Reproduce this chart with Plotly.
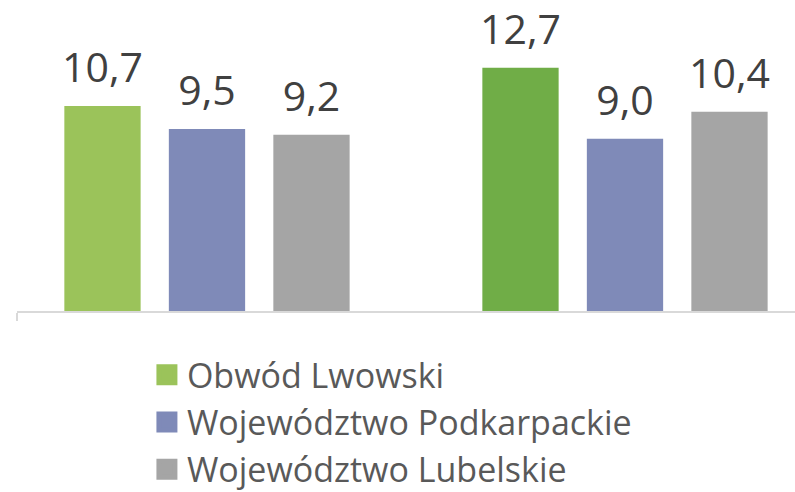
import plotly.graph_objects as go

categories = [0, 1]
series_names = ["Obwód Lwowski", "Województwo Podkarpackie", "Województwo Lubelskie"]
lwowski = [10.7, 12.7]
podkarpackie = [9.5, 9.0]
lubelskie = [9.2, 10.4]

colors_lwowski = ["#9BC35A", "#70AD47"]
color_podk = "#7F8AB8"
color_lub = "#A5A5A5"

FONT = "Open Sans"
series = [
    (series_names[0], lwowski, colors_lwowski, colors_lwowski[0]),
    (series_names[1], podkarpackie, color_podk, color_podk),
    (series_names[2], lubelskie, color_lub, color_lub),
]

fig = go.Figure()
# bars
for name, vals, col, _ in series:
    fig.add_trace(go.Bar(
        x=categories, y=vals, name=name, showlegend=False,
        marker=dict(color=col, line=dict(width=0)),
        cliponaxis=False,
    ))
# value labels (grouped scatter text, aligned with the bars)
for name, vals, col, _ in series:
    fig.add_trace(go.Scatter(
        x=categories, y=vals, name=name, showlegend=False,
        mode="markers+text", texttemplate="%{y:.1f}", textposition="top center",
        marker=dict(size=20, color="rgba(0,0,0,0)"),
        textfont=dict(family=FONT, size=41, color="#404040"),
        cliponaxis=False, hoverinfo="skip",
    ))
# legend entries
for name, vals, col, lcol in series:
    fig.add_trace(go.Scatter(
        x=[None], y=[None], name=name, xaxis="x2", yaxis="y2",
        mode="markers",
        marker=dict(symbol="square", size=16, color=lcol, line=dict(width=5, color=lcol)),
    ))

fig.update_layout(
    width=795, height=492,
    margin=dict(l=17, r=0, t=0, b=181, autoexpand=False),
    paper_bgcolor="white", plot_bgcolor="white",
    barmode="group", bargap=0.25, bargroupgap=0.27,
    scattermode="group", scattergap=0.25,
    separators=", ",
    showlegend=True,
    legend=dict(
        x=0.167, y=-0.113, xanchor="left", yanchor="top",
        font=dict(family=FONT, size=34, color="#595959"),
        tracegroupgap=0, bgcolor="rgba(0,0,0,0)",
    ),
    xaxis=dict(
        range=[-0.4545, 1.4067], showgrid=False, zeroline=False,
        showline=True, linecolor="#D9D9D9", linewidth=1.5,
        tickvals=[-0.4545], ticks="outside", ticklen=8, tickcolor="#D9D9D9",
        tickwidth=1.5, showticklabels=False, fixedrange=True,
    ),
    yaxis=dict(range=[0, 16.24], visible=False, fixedrange=True),
    xaxis2=dict(overlaying="x", visible=False, range=[0, 1]),
    yaxis2=dict(overlaying="y", visible=False, range=[0, 1]),
)

fig.write_html(
    "out.html",
    config={"displayModeBar": False},
    post_script="document.body.style.margin='0';document.body.style.overflow='hidden';",
)
